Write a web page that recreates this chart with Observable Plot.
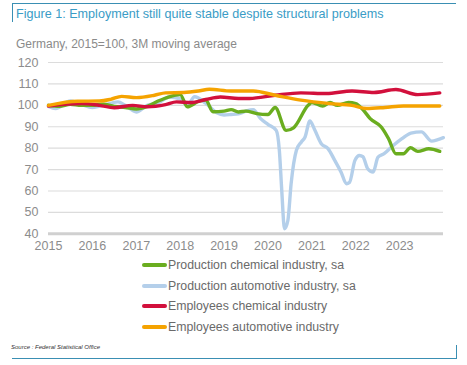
<!DOCTYPE html>
<html>
<head>
<meta charset="utf-8">
<script src="https://cdn.jsdelivr.net/npm/d3@7"></script>
<script src="https://cdn.jsdelivr.net/npm/@observablehq/plot@0.6"></script>
<style>
  html, body { margin: 0; padding: 0; background: #fff; }
  #wrap { position: relative; width: 467px; height: 365px; font-family: "Liberation Sans", Arial, sans-serif; overflow: hidden; }
  .abs { position: absolute; }
  #title { left: 16px; top: 7px; font-size: 12.6px; color: #3a9cc6; white-space: nowrap; }
  #subtitle { left: 16px; top: 37px; font-size: 12px; color: #8a8a8a; white-space: nowrap; }
  #chart { left: 0; top: 50px; }
  .leg { left: 142px; height: 16px; display: flex; align-items: center; font-size: 12.3px; color: #6a6a6a; white-space: nowrap; }
  .leg span.sw { display: inline-block; width: 25px; height: 4px; border-radius: 2px; margin-right: 1px; }
  #source { left: 11px; top: 344px; font-size: 6px; font-style: italic; color: #333; white-space: nowrap; }
  .fl { background: #3a8fb3; }
</style>
</head>
<body>
<div id="wrap">
  <div class="abs fl" style="left:12px;top:3px;width:444px;height:1px;"></div>
  <div class="abs fl" style="left:12px;top:3px;width:1px;height:19px;"></div>
  <div class="abs fl" style="left:12px;top:358px;width:445px;height:1px;"></div>
  <div class="abs fl" style="left:456px;top:345px;width:1px;height:14px;"></div>
  <div id="title" class="abs">Figure 1: Employment still quite stable despite structural problems</div>
  <div id="subtitle" class="abs">Germany, 2015=100, 3M moving average</div>
  <div id="chart" class="abs"></div>
  <div id="legend"></div>
  <div id="source" class="abs">Source : Federal Statistical Office</div>
</div>
<script>
// ---- data ----
const yearLabels = ["2015","2016","2017","2018","2019","2020","2021","2022","2023"];
const yTicks = [40, 50, 60, 70, 80, 90, 100, 110, 120];

const seriesNames = [
  "Production chemical industry, sa",
  "Production automotive industry, sa",
  "Employees chemical industry",
  "Employees automotive industry"
];
const seriesColors = ["#6aad1f", "#b4cfea", "#d2103c", "#f5a300"];

const prodChemDates = ["2015-01","2015-04","2015-07","2015-10","2016-01","2016-04","2016-07","2016-10","2017-01","2017-04","2017-07","2017-10","2018-01","2018-03","2018-06","2018-08","2018-10","2019-01","2019-03","2019-05","2019-07","2019-10","2020-01","2020-03","2020-06","2020-08","2020-12","2021-01","2021-04","2021-06","2021-08","2021-11","2022-01","2022-03","2022-05","2022-08","2022-10","2022-12","2023-02","2023-04","2023-06","2023-09","2023-12"];
const prodChem = [100,99.5,100.5,100,100,100.5,99.5,99,98.3,99.5,102,104,105,99.3,101.8,102.5,97,97.3,98,96.9,97.3,96.1,95.7,99,88.3,89.5,100,101.3,99.7,101.3,100,101.3,100.8,98,93.8,89.9,84.4,77.4,77.4,80.2,78.5,79.7,78.5];

const prodAutoDates = ["2015-01","2015-03","2015-07","2015-10","2016-01","2016-04","2016-08","2016-10","2017-01","2017-04","2017-07","2017-10","2018-01","2018-03","2018-05","2018-08","2018-11","2019-01","2019-03","2019-05","2019-07","2019-09","2019-11","2020-01","2020-03-10","2020-04-05","2020-04-25","2020-05-18","2020-06-15","2020-07-12","2020-08-25","2020-10-05","2020-11-05","2020-12-15","2021-01-20","2021-03-20","2021-05-15","2021-07-10","2021-09-01","2021-10-15","2021-11-10","2021-12-25","2022-02-01","2022-03-01","2022-04-10","2022-05-25","2022-07-05","2022-08-25","2022-10-25","2023-01-20","2023-04-05","2023-07-01","2023-09-25","2023-11-15","2023-12-31"];
const prodAuto = [99.5,98.5,102,100.5,99,100,101.6,100,96.9,100,101,103.9,103,100,104,101,96.5,95.5,95.7,96,97.3,98,93.8,91.1,88.3,79,60.3,42.3,46.2,63.4,79,82.9,85.2,92.7,89.1,82.1,79.8,74.3,68.8,63.4,64,74.3,76.6,76,70.4,68.8,75.8,77.4,80.5,84.4,87,87.6,83.3,84,84.9];

const empChemDates = ["2015-01","2015-10","2016-03","2016-07","2016-12","2017-04","2017-09","2017-12","2018-04","2018-08","2018-12","2019-05","2019-08","2020-03","2020-10","2021-05","2021-12","2022-06","2022-12","2023-06","2023-12"];
const empChem = [99.7,100.8,100,98.9,100,99.3,100.3,101.6,101.3,102.7,103.9,103.2,103.2,104.7,105.8,105.5,106.7,106,107.4,105,105.8];

const empAutoDates = ["2015-01","2015-09","2016-03","2016-06","2016-09","2017-01","2017-06","2017-09","2018-02","2018-06","2018-09","2019-03","2019-09","2020-03","2020-10","2021-06","2021-12","2022-04","2022-09","2023-02","2023-12"];
const empAuto = [100,101.9,102,102.8,104.2,103.6,104.7,105.8,106,106.7,107.5,106.7,106.7,104.7,102.4,100.8,100,98.5,99,99.7,99.7];

// ---- build tables ----
const toRows = (dates, vals) => dates.map((d, i) => ({date: new Date(d), value: vals[i]}));
const series = [
  toRows(prodChemDates, prodChem),
  toRows(prodAutoDates, prodAuto),
  toRows(empChemDates, empChem),
  toRows(empAutoDates, empAuto)
];
const yearTicks = yearLabels.map(y => new Date(y + "-01-01"));
const drawOrder = [1, 0, 2, 3];

const chart = Plot.plot({
  width: 467,
  height: 210,
  marginLeft: 48,
  marginRight: 24,
  marginTop: 12,
  marginBottom: 26.7,
  style: {fontFamily: "Liberation Sans, Arial, sans-serif", fontSize: "12px", color: "#8c8c8c", background: "transparent"},
  x: {type: "utc", domain: [new Date("2015-01-01"), new Date("2024-01-01")]},
  y: {domain: [40, 120]},
  marks: [
    Plot.ruleY(yTicks.filter(v => v > 40), {stroke: "#dcdcdc", strokeWidth: 1.2}),
    Plot.ruleY([40], {stroke: "#d0d0d0", strokeWidth: 3}),
    Plot.axisY(yTicks, {tickSize: 0, tickPadding: 10, fill: "#8c8c8c", fontSize: 12.5, label: null}),
    Plot.axisX(yearTicks, {tickSize: 0, tickPadding: 7, tickFormat: (d, i) => yearLabels[i], fill: "#8c8c8c", fontSize: 12.5, label: null}),
    ...drawOrder.map(k => Plot.line(series[k], {x: "date", y: "value", stroke: seriesColors[k], strokeWidth: 3.4, curve: "monotone-x"}))
  ]
});
document.getElementById("chart").appendChild(chart);

// ---- legend ----
const legendTops = [257, 277.5, 298, 318.5];
const legend = document.getElementById("legend");
seriesNames.forEach((name, i) => {
  const row = document.createElement("div");
  row.className = "abs leg";
  row.style.top = legendTops[i] + "px";
  row.innerHTML = `<span class="sw" style="background:${seriesColors[i]}"></span>${name}`;
  legend.appendChild(row);
});
</script>
</body>
</html>
